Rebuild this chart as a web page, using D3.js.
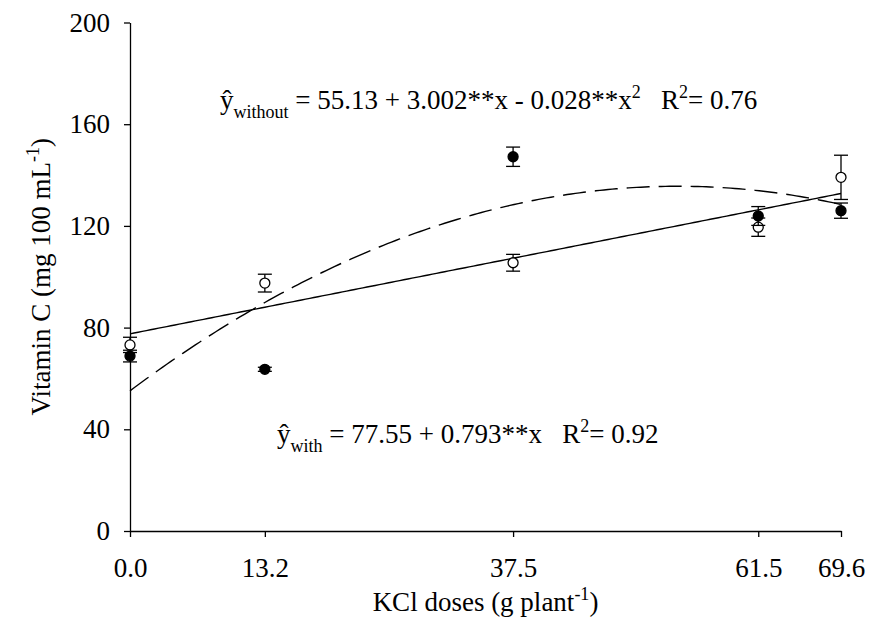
<!DOCTYPE html>
<html><head><meta charset="utf-8">
<script src="https://cdn.jsdelivr.net/npm/d3@7"></script>
<style>
body{margin:0;background:#fff}
svg text{font-family:"Liberation Serif","Times New Roman",serif;fill:#000}
</style>
</head><body>
<svg id="c" width="869" height="643"></svg>
<script>
// ---- data ----
const doses = [0, 13.2, 37.5, 61.5, 69.6];
const xTickLabels = ["0.0", "13.2", "37.5", "61.5", "69.6"];
const yTicks = [0, 40, 80, 120, 160, 200];
const withK = [73.2, 97.5, 105.5, 119.5, 139.1];       // open circles
const withErr = [3.0, 3.5, 3.3, 3.6, 8.7];
const withoutK = [68.8, 63.6, 147.2, 123.9, 126.0];    // filled circles
const withoutErr = [2.3, 0.8, 3.8, 3.7, 3.0];
const withFit = [77.55, 0.793];            // y = a + b x
const withoutFit = [55.13, 3.002, -0.028]; // y = a + b x + c x^2

const FS = 27, SUB = 18;
const svg = d3.select("#c");
const x = d3.scaleLinear().domain([0, 69.6]).range([130, 841]);
const y = d3.scaleLinear().domain([0, 200]).range([531, 22.5]);

// axes
const xAxis = d3.axisBottom(x).tickValues(doses)
  .tickFormat((d, i) => xTickLabels[i]).tickSize(6).tickSizeOuter(0).tickPadding(21);
const yAxis = d3.axisLeft(y).tickValues(yTicks).tickSize(6).tickSizeOuter(0).tickPadding(14);

const gx = svg.append("g").attr("transform", `translate(0,${y(0)})`).call(xAxis);
const gy = svg.append("g").attr("transform", `translate(${x(0)},0)`).call(yAxis);
[gx, gy].forEach(g => {
  g.selectAll("path,line").attr("stroke", "#000").attr("stroke-width", 1.3);
  g.selectAll("text").attr("font-size", FS).attr("font-family", "Liberation Serif, Times New Roman, serif").attr("fill", "#000");
});

// fitted lines
const xs = d3.range(0, 69.6, 0.4).concat([69.6]);
const line = d3.line().x(d => x(d[0])).y(d => y(d[1]));
const polyVal = (c, v) => c.reduce((s, ci, k) => s + ci * Math.pow(v, k), 0);
svg.append("path")
  .attr("d", line(xs.map(v => [v, polyVal(withFit, v)])))
  .attr("fill", "none").attr("stroke", "#000").attr("stroke-width", 1.4);
svg.append("path")
  .attr("d", line(xs.map(v => [v, polyVal(withoutFit, v)])))
  .attr("fill", "none").attr("stroke", "#000").attr("stroke-width", 1.4)
  .attr("stroke-dasharray", "23,9");

// error bars + points
function series(vals, errs, filled) {
  const g = svg.append("g");
  const cap = 7;
  vals.forEach((v, i) => {
    const cx = x(doses[i]);
    const y1 = y(v + errs[i]), y2 = y(v - errs[i]);
    g.append("line").attr("x1", cx).attr("x2", cx).attr("y1", y1).attr("y2", y2)
      .attr("stroke", "#000").attr("stroke-width", 1.3);
    [y1, y2].forEach(yy => g.append("line").attr("x1", cx - cap).attr("x2", cx + cap)
      .attr("y1", yy).attr("y2", yy).attr("stroke", "#000").attr("stroke-width", 1.3));
  });
  g.selectAll("circle").data(vals).join("circle")
    .attr("cx", (d, i) => x(doses[i])).attr("cy", d => y(d)).attr("r", 5)
    .attr("fill", filled ? "#000" : "#fff").attr("stroke", "#000").attr("stroke-width", 1.3);
}
series(withK, withErr, false);
series(withoutK, withoutErr, true);

// equations
function equation(x0, base, sub, parts) {
  const t = svg.append("text").attr("x", x0).attr("y", base)
    .attr("font-size", FS).style("white-space", "pre");
  t.append("tspan").text("\u0177");
  t.append("tspan").attr("font-size", SUB).attr("dy", 9).text(sub);
  let cur = 9;
  parts.forEach(p => {
    const target = p.sup ? -11 : 0;
    t.append("tspan").attr("font-size", p.sup ? SUB : FS).attr("dy", target - cur).text(p.t);
    cur = target;
  });
}
equation(220, 108.5, "without", [
  {t: " = 55.13 + 3.002**x - 0.028**x"}, {t: "2", sup: true},
  {t: "   R"}, {t: "2", sup: true}, {t: "= 0.76"}]);
equation(277, 442.7, "with", [
  {t: " = 77.55 + 0.793**x   R"}, {t: "2", sup: true}, {t: "= 0.92"}]);

// axis titles
const xt = svg.append("text").attr("x", (x(0) + x(69.6)) / 2).attr("y", 611)
  .attr("text-anchor", "middle").attr("font-size", FS);
xt.append("tspan").text("KCl doses (g plant");
xt.append("tspan").attr("font-size", SUB).attr("dy", -11).text("-1");
xt.append("tspan").attr("dy", 11).text(")");

const yt = svg.append("text")
  .attr("transform", `translate(50,${(y(0) + y(200)) / 2}) rotate(-90)`)
  .attr("text-anchor", "middle").attr("font-size", FS);
yt.append("tspan").text("Vitamin C (mg 100 mL");
yt.append("tspan").attr("font-size", SUB).attr("dy", -11).text("-1");
yt.append("tspan").attr("dy", 11).text(")");
</script>
</body></html>
